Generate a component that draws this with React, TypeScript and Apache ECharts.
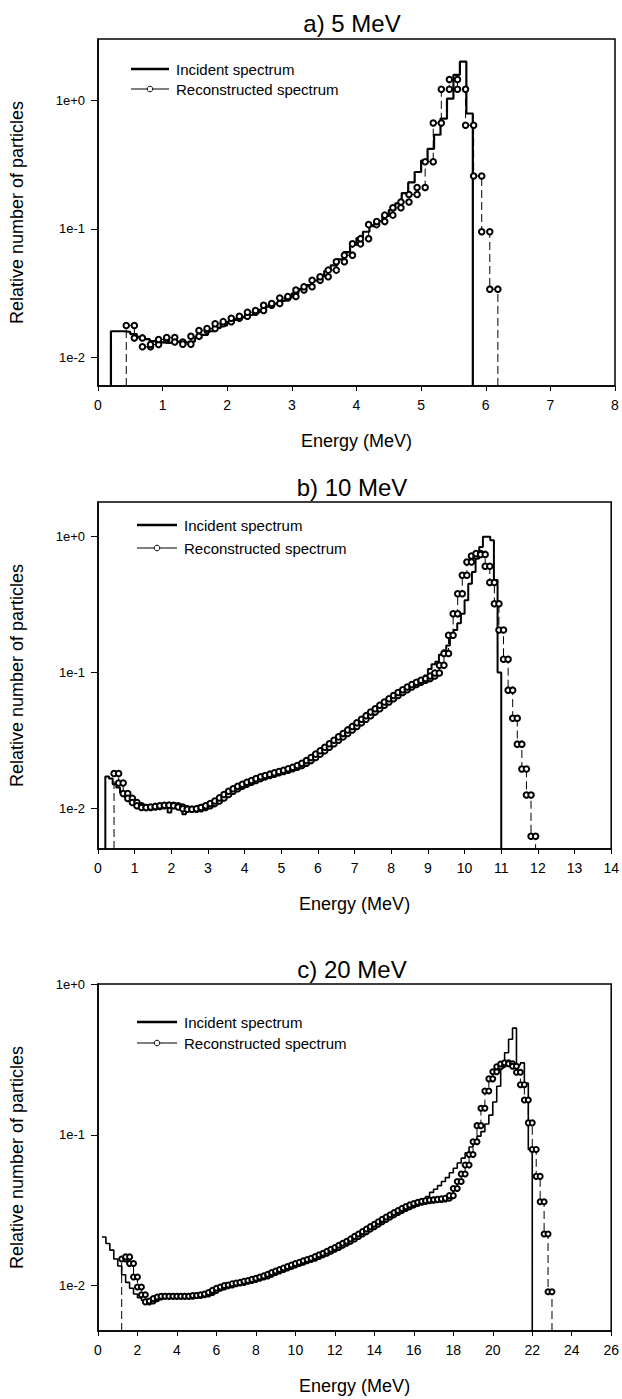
import React, { useEffect, useRef } from 'react';
import * as echarts from 'echarts';

const FONT = '"Liberation Sans", Arial, Helvetica, sans-serif';

const TITLES = ['a) 5 MeV', 'b) 10 MeV', 'c) 20 MeV'];
const X_MAX = [8, 14, 26];
const X_STEP = [1, 1, 2];
const Y_MIN = [0.006, 0.005, 0.005];
const Y_MAX = [3, 1.8, 1];
const Y_TICKS = [0.01, 0.1, 1];
const SERIES_NAMES = ['Incident spectrum', 'Reconstructed spectrum'];

// Panel a) 5 MeV — incident histogram (bin start 0.2 MeV, width 0.1 MeV)
const INC_A_START = 0.2;
const INC_A_WIDTH = 0.1;
const INC_A = [
  0.016, 0.016, 0.0158, 0.0152, 0.0145, 0.0139, 0.0134, 0.0131,
  0.013, 0.0131, 0.0133, 0.0131, 0.0133, 0.0142, 0.015, 0.016, 0.017, 0.0178,
  0.0187, 0.0196, 0.0205, 0.0214, 0.0224, 0.0235, 0.0248, 0.0262, 0.0276, 0.0292,
  0.0315, 0.034, 0.0365, 0.0395, 0.043, 0.047, 0.052, 0.058, 0.066, 0.075,
  0.085, 0.095, 0.105, 0.115, 0.126, 0.14, 0.158, 0.19, 0.23, 0.277,
  0.34, 0.42, 0.54, 0.72, 1.03, 1.58, 2.0, 0.79,
];
// Panel a) reconstructed (bin start 0.4375 MeV, width 0.125 MeV)
const REC_A_START = 0.4375;
const REC_A_WIDTH = 0.125;
const REC_A = [
  0.0177, 0.0142, 0.0121, 0.0126, 0.0138,
  0.0143, 0.0132, 0.0127, 0.0146, 0.0162, 0.0168, 0.0183, 0.019,
  0.0202, 0.0209, 0.0225, 0.0232, 0.0255, 0.0263, 0.029, 0.0298,
  0.0335, 0.0355, 0.0398, 0.0425, 0.0478, 0.0555, 0.0625, 0.0765,
  0.084, 0.108, 0.114, 0.128, 0.146, 0.162, 0.185, 0.21,
  0.333, 0.667, 1.22, 1.45, 1.22, 0.64, 0.258, 0.095,
  0.034,
];

// Panel b) 10 MeV — incident (bin start 0.2, width 0.1)
const INC_B_START = 0.2;
const INC_B_WIDTH = 0.1;
const INC_B = [
  0.0171, 0.0165, 0.015, 0.0142, 0.013, 0.0122, 0.0115, 0.011,
  0.0105, 0.0102, 0.01, 0.0099, 0.0099, 0.01, 0.0101, 0.0102, 0.0103, 0.0093,
  0.0104, 0.0104, 0.0102, 0.009, 0.0101, 0.0101, 0.0102, 0.0104, 0.0106, 0.0108,
  0.011, 0.0113, 0.0117, 0.012, 0.0124, 0.0128, 0.0133, 0.0138, 0.0143, 0.0148,
  0.0152, 0.0156, 0.016, 0.0164, 0.0167, 0.017, 0.0173, 0.0177, 0.018, 0.0184,
  0.0188, 0.0192, 0.0197, 0.0202, 0.0208, 0.0215, 0.0223, 0.0232, 0.0242, 0.0253,
  0.0265, 0.0278, 0.0292, 0.0306, 0.032, 0.0335, 0.035, 0.0366, 0.0383, 0.04,
  0.0418, 0.0437, 0.0456, 0.0476, 0.0497, 0.0518, 0.054, 0.0563, 0.0587, 0.0612,
  0.0638, 0.0665, 0.0693, 0.0722, 0.0752, 0.0785, 0.082, 0.0858, 0.09, 0.095,
  0.106, 0.115, 0.12, 0.135, 0.145, 0.158, 0.18, 0.205, 0.23, 0.27,
  0.34, 0.45, 0.55, 0.69, 0.84, 1.0, 1.0, 0.94, 0.48, 0.1,
];
// Panel b) reconstructed (bin start 0.4375, width 0.125)
const REC_B_START = 0.4375;
const REC_B_WIDTH = 0.125;
const REC_B = [
  0.018, 0.0153, 0.0128, 0.0118, 0.011,
  0.0104, 0.0101, 0.0101, 0.0102, 0.0103, 0.0104, 0.0105, 0.0105,
  0.0104, 0.0102, 0.0099, 0.0098, 0.0098, 0.0099, 0.0101, 0.0104,
  0.0108, 0.0113, 0.0119, 0.0126, 0.0133, 0.0139, 0.0145, 0.015,
  0.0155, 0.016, 0.0165, 0.017, 0.0174, 0.0178, 0.0182, 0.0186,
  0.019, 0.0195, 0.02, 0.0206, 0.0214, 0.0224, 0.0236, 0.025,
  0.0265, 0.0281, 0.0298, 0.0316, 0.0335, 0.0355, 0.0377, 0.04,
  0.0425, 0.0452, 0.048, 0.051, 0.054, 0.0572, 0.0605, 0.064,
  0.0675, 0.071, 0.0745, 0.078, 0.0815, 0.0845, 0.0875, 0.09,
  0.094, 0.099, 0.113, 0.138, 0.188, 0.27, 0.38, 0.52,
  0.65, 0.72, 0.75, 0.74, 0.605, 0.46, 0.32, 0.205,
  0.125, 0.074, 0.046, 0.0296, 0.0194, 0.0125, 0.0062,
];

// Panel c) 20 MeV — incident (bin start 0.2, width 0.2)
const INC_C_START = 0.2;
const INC_C_WIDTH = 0.2;
const INC_C = [
  0.021, 0.019, 0.0172, 0.015, 0.0135, 0.0118, 0.0105, 0.0096, 0.0088, 0.0083,
  0.008, 0.0077, 0.0078, 0.0081, 0.0083, 0.0084, 0.0083, 0.0084, 0.0083, 0.0084,
  0.0085, 0.0084, 0.0085, 0.0085, 0.0086, 0.0086, 0.0088, 0.0091, 0.0092, 0.0095,
  0.0097, 0.0097, 0.0099, 0.01, 0.0101, 0.0102, 0.0104, 0.0105, 0.0107, 0.0109,
  0.0111, 0.0113, 0.0115, 0.0118, 0.0121, 0.0124, 0.0127, 0.013, 0.0133, 0.0137,
  0.014, 0.0143, 0.0147, 0.0151, 0.0155, 0.0159, 0.0164, 0.0175, 0.0172, 0.0178,
  0.0184, 0.019, 0.0196, 0.0203, 0.021, 0.0218, 0.0226, 0.0234, 0.0243, 0.025,
  0.0258, 0.0268, 0.0278, 0.0288, 0.0298, 0.0308, 0.0318, 0.0327, 0.0336, 0.0345,
  0.0355, 0.037, 0.039, 0.0415, 0.0435, 0.046, 0.049, 0.052, 0.056, 0.06,
  0.065, 0.07, 0.076, 0.083, 0.092, 0.098, 0.105, 0.118, 0.135, 0.165,
  0.21, 0.28, 0.35, 0.43, 0.51, 0.29, 0.3, 0.22, 0.08,
];
// Panel c) reconstructed (bin start 1.2, width 0.2)
const REC_C_START = 1.2;
const REC_C_WIDTH = 0.2;
const REC_C = [
  0.015, 0.0155, 0.014, 0.0114, 0.0098, 0.0087, 0.0078, 0.0079, 0.0082, 0.0084,
  0.0085, 0.0085, 0.0085, 0.0085, 0.0085, 0.0085, 0.0085, 0.0085, 0.0086, 0.0086,
  0.0087, 0.0088, 0.009, 0.0093, 0.0096, 0.0098, 0.01, 0.0101, 0.0103, 0.0104,
  0.0105, 0.0107, 0.0108, 0.011, 0.0112, 0.0114, 0.0116, 0.0119, 0.0122, 0.0125,
  0.0128, 0.0131, 0.0134, 0.0137, 0.014, 0.0143, 0.0146, 0.0149, 0.0152, 0.0156,
  0.016, 0.0164, 0.0169, 0.0174, 0.0179, 0.0185, 0.0191, 0.0197, 0.0204, 0.0212,
  0.022, 0.0228, 0.0237, 0.0246, 0.0255, 0.0265, 0.0275, 0.0285, 0.0295, 0.0305,
  0.0315, 0.0325, 0.0334, 0.0343, 0.035, 0.0357, 0.0362, 0.0366, 0.0369, 0.0371,
  0.0373, 0.0376, 0.038, 0.0395, 0.044, 0.049, 0.055, 0.063, 0.074, 0.09,
  0.115, 0.15, 0.195, 0.235, 0.262, 0.283, 0.295, 0.3, 0.296, 0.285,
  0.26, 0.215, 0.17, 0.12, 0.08, 0.053, 0.036, 0.022, 0.0091,
];

const INC = [
  { start: INC_A_START, width: INC_A_WIDTH, values: INC_A, fromFloor: true },
  { start: INC_B_START, width: INC_B_WIDTH, values: INC_B, fromFloor: true },
  { start: INC_C_START, width: INC_C_WIDTH, values: INC_C, fromFloor: false },
];
const REC = [
  { start: REC_A_START, width: REC_A_WIDTH, values: REC_A },
  { start: REC_B_START, width: REC_B_WIDTH, values: REC_B },
  { start: REC_C_START, width: REC_C_WIDTH, values: REC_C },
];

const GRID_TOP = [39, 502, 984];
const GRID_H = 347;
const TITLE_TOP = [6, 470, 952];
const LEGEND_ROW1 = [69, 525, 1022];
const LEGEND_ROW_GAP = [20, 23, 21];
const LEGEND_X0 = [131, 137, 137];
const LEGEND_X1 = [169, 177, 177];
const INC_WIDTH = [2.2, 2, 1.6];
const SYM_SIZE = [5.5, 5.5, 5];

function histPoints(start: number, width: number, values: number[], floor: number, fromFloor: boolean, marked: boolean) {
  const pts: any[] = [];
  const floorPt = (x: number) => (marked ? { value: [x, floor], symbol: 'none' } : [x, floor]);
  if (fromFloor) pts.push(floorPt(start));
  for (let i = 0; i < values.length; i++) {
    pts.push([start + i * width, values[i]]);
    pts.push([start + (i + 1) * width, values[i]]);
  }
  pts.push(floorPt(start + values.length * width));
  return pts;
}

function expLabel(v: number) {
  const l = Math.log10(v);
  const e = Math.round(l);
  if (Math.abs(l - e) > 0.01) return '';
  return '1e' + (e >= 0 ? '+' : '') + e;
}

function legendGraphics(i: number) {
  const y1 = LEGEND_ROW1[i];
  const y2 = y1 + LEGEND_ROW_GAP[i];
  const x0 = LEGEND_X0[i];
  const x1 = LEGEND_X1[i];
  const tx = x1 + 7;
  const textEl = (text: string, y: number) => ({
    type: 'text',
    x: tx,
    y,
    style: { text, fill: '#000', font: '15px ' + FONT, verticalAlign: 'middle', textVerticalAlign: 'middle' },
  });
  return [
    { type: 'line', shape: { x1: x0, y1, x2: x1, y2: y1 }, style: { stroke: '#000', lineWidth: 2.5 } },
    textEl(SERIES_NAMES[0], y1),
    { type: 'line', shape: { x1: x0, y1: y2, x2: x1, y2 }, style: { stroke: '#000', lineWidth: 1 } },
    { type: 'circle', shape: { cx: (x0 + x1) / 2, cy: y2, r: 2.8 }, style: { fill: '#fff', stroke: '#000', lineWidth: 1 } },
    textEl(SERIES_NAMES[1], y2),
  ];
}

export default function App() {
  const ref = useRef<HTMLDivElement>(null);
  useEffect(() => {
    if (!ref.current) return;
    const chart = echarts.init(ref.current, undefined, { renderer: 'svg' });
    const idx = [0, 1, 2];
    const option: any = {
      animation: false,
      backgroundColor: '#fff',
      textStyle: { fontFamily: FONT, color: '#000' },
      title: idx.map((i) => ({
        text: TITLES[i],
        left: 347,
        top: TITLE_TOP[i],
        textAlign: 'center',
        textStyle: { fontSize: 24, fontWeight: 'normal', color: '#000', fontFamily: FONT },
      })),
      graphic: idx.flatMap((i) => legendGraphics(i)),
      grid: idx.map((i) => ({
        left: 95,
        right: 7,
        top: GRID_TOP[i],
        height: GRID_H,
        show: true,
        borderColor: '#000',
        borderWidth: 1.5,
        backgroundColor: 'transparent',
      })),
      xAxis: idx.map((i) => ({
        type: 'value',
        gridIndex: i,
        min: 0,
        max: X_MAX[i],
        interval: X_STEP[i],
        name: 'Energy (MeV)',
        nameLocation: 'middle',
        nameGap: 46,
        nameTextStyle: { fontSize: 18, color: '#000', fontFamily: FONT },
        axisLine: { show: true, onZero: false, lineStyle: { color: '#000', width: 1.5 } },
        axisTick: { show: true, length: 5, lineStyle: { color: '#000', width: 1 } },
        axisLabel: { color: '#000', fontSize: 14, margin: 12, fontFamily: FONT },
        splitLine: { show: false },
      })),
      yAxis: idx.map((i) => ({
        type: 'log',
        logBase: 10,
        gridIndex: i,
        min: Y_MIN[i],
        max: Y_MAX[i],
        name: 'Relative number of particles',
        nameLocation: 'middle',
        nameGap: 72,
        nameTextStyle: { fontSize: 18, color: '#000', fontFamily: FONT },
        axisLine: { show: true, lineStyle: { color: '#000', width: 1.5 } },
        axisTick: { show: true, length: 7, customValues: Y_TICKS, lineStyle: { color: '#000', width: 1 } },
        axisLabel: { color: '#000', fontSize: 13, margin: 13, fontFamily: FONT, customValues: Y_TICKS, formatter: expLabel },
        splitLine: { show: false },
      })),
      series: [] as any[],
    };
    idx.forEach((i) => {
      option.series.push({
        type: 'line',
        name: SERIES_NAMES[0],
        xAxisIndex: i,
        yAxisIndex: i,
        data: histPoints(INC[i].start, INC[i].width, INC[i].values, Y_MIN[i], INC[i].fromFloor, false),
        symbol: 'none',
        color: '#000',
        lineStyle: { color: '#000', width: INC_WIDTH[i] },
        z: 2,
      });
      option.series.push({
        type: 'line',
        name: SERIES_NAMES[1],
        xAxisIndex: i,
        yAxisIndex: i,
        data: histPoints(REC[i].start, REC[i].width, REC[i].values, Y_MIN[i], true, true),
        symbol: 'emptyCircle',
        symbolSize: SYM_SIZE[i],
        showAllSymbol: true,
        color: '#000',
        itemStyle: { color: '#000', borderWidth: 1 },
        lineStyle: { color: '#000', width: 1, type: [8, 4] },
        z: 3,
      });
    });
    chart.setOption(option);
    return () => chart.dispose();
  }, []);
  return (
    <div
      ref={ref}
      style={{ position: 'absolute', left: 0, top: 0, width: 622, height: 1399, background: '#fff' }}
    />
  );
}
